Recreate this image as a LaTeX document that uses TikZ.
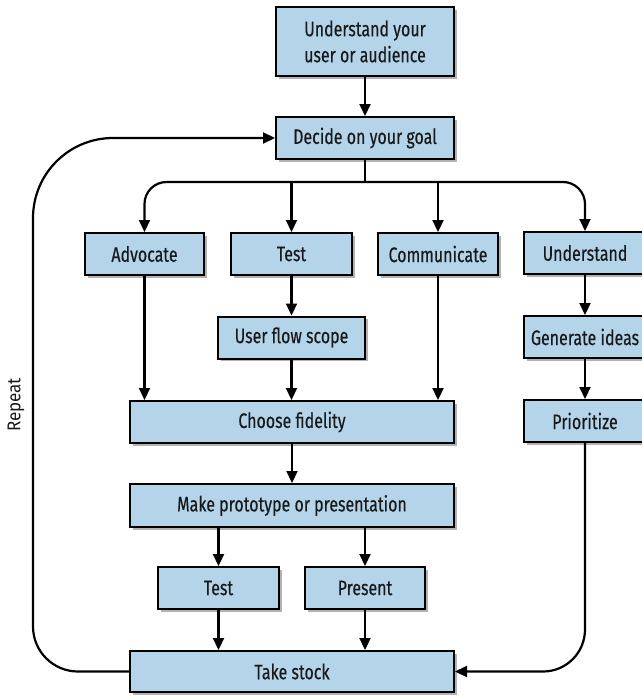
\documentclass[tikz,border=0pt]{standalone}
\usepackage{fontspec}
\setmainfont{Fira Sans}[FakeStretch=0.76,FakeBold=0.3]
\newfontfamily\repfont{Fira Sans}[FakeStretch=0.92]
\usetikzlibrary{arrows.meta,shadows,calc}
\definecolor{boxblue}{RGB}{180,212,233}
\definecolor{txt}{RGB}{25,25,25}
\begin{document}
\begin{tikzpicture}[x=1pt,y=-1pt,
  box/.style={draw=black, line width=2pt, fill=boxblue, inner sep=0pt, align=center,
    text=txt, font=\fontsize{21}{26}\selectfont, minimum height=42pt,
    drop shadow={shadow xshift=2.5pt, shadow yshift=-2.5pt, fill=black, opacity=0.3}},
  arr/.style={line width=2.2pt, -{Triangle[width=11pt,length=12pt]}},
  ln/.style={line width=2.2pt}]
\useasboundingbox (0,0) rectangle (641,696);
% nodes
\node[box, minimum width=178pt, minimum height=69pt] (top) at (365,41.5) {Understand your\\user or audience};
\node[box, minimum width=178pt] (decide) at (365,138) {Decide on your goal};
\node[box, minimum width=119pt] (adv) at (144.5,254) {Advocate};
\node[box, minimum width=121pt] (test) at (291.5,254) {Test};
\node[box, minimum width=120pt] (comm) at (438,254) {Communicate};
\node[box, minimum width=122pt] (und) at (585,253) {Understand};
\node[box, minimum width=147pt] (ufs) at (291.5,337.5) {User flow scope};
\node[box, minimum width=122pt] (gen) at (585,337) {Generate ideas};
\node[box, minimum width=324pt] (choose) at (292,422) {Choose fidelity};
\node[box, minimum width=122pt] (prio) at (585,421) {Prioritize};
\node[box, minimum width=324pt, minimum height=43pt] (make) at (292,505.5) {Make prototype or presentation};
\node[box, minimum width=121pt] (test2) at (218.5,588) {Test};
\node[box, minimum width=120pt] (present) at (365,588) {Present};
\node[box, minimum width=324pt, minimum height=41pt] (take) at (292,671.5) {Take stock};
\node[rotate=90, text=txt, font=\repfont\fontsize{18.5}{20}\selectfont] (rep) at (16,405) {Repeat};
% connectors
\coordinate (br) at (365,182);
\coordinate (lp) at (33,400);
\draw[arr] (top) -- (decide);
\draw[ln] (decide.south) -- (br);
\draw[arr, rounded corners=22pt] (br) -| (adv.north);
\draw[arr, rounded corners=22pt] (br) -| (und.north);
\draw[arr] (br -| test.north) -- (test.north);
\draw[arr] (br -| comm.north) -- (comm.north);
\draw[arr] (adv.south) -- (adv.south |- choose.north);
\draw[arr] (test) -- (ufs);
\draw[arr] (ufs.south) -- (ufs.south |- choose.north);
\draw[arr] (comm.south) -- (comm.south |- choose.north);
\draw[arr] (und) -- (gen);
\draw[arr] (gen) -- (prio);
\draw[arr] (choose) -- (make);
\draw[arr] (make.south -| test2.north) -- (test2.north);
\draw[arr] (make.south -| present.north) -- (present.north);
\draw[arr] (test2.south) -- (test2.south |- take.north);
\draw[arr] (present.south) -- (present.south |- take.north);
\draw[arr] (take.west) [rounded corners=45pt] -| (lp) [rounded corners=80pt] |- (decide.west);
\draw[arr, rounded corners=42pt] (prio.south) |- (take.east);
\end{tikzpicture}
\end{document}
